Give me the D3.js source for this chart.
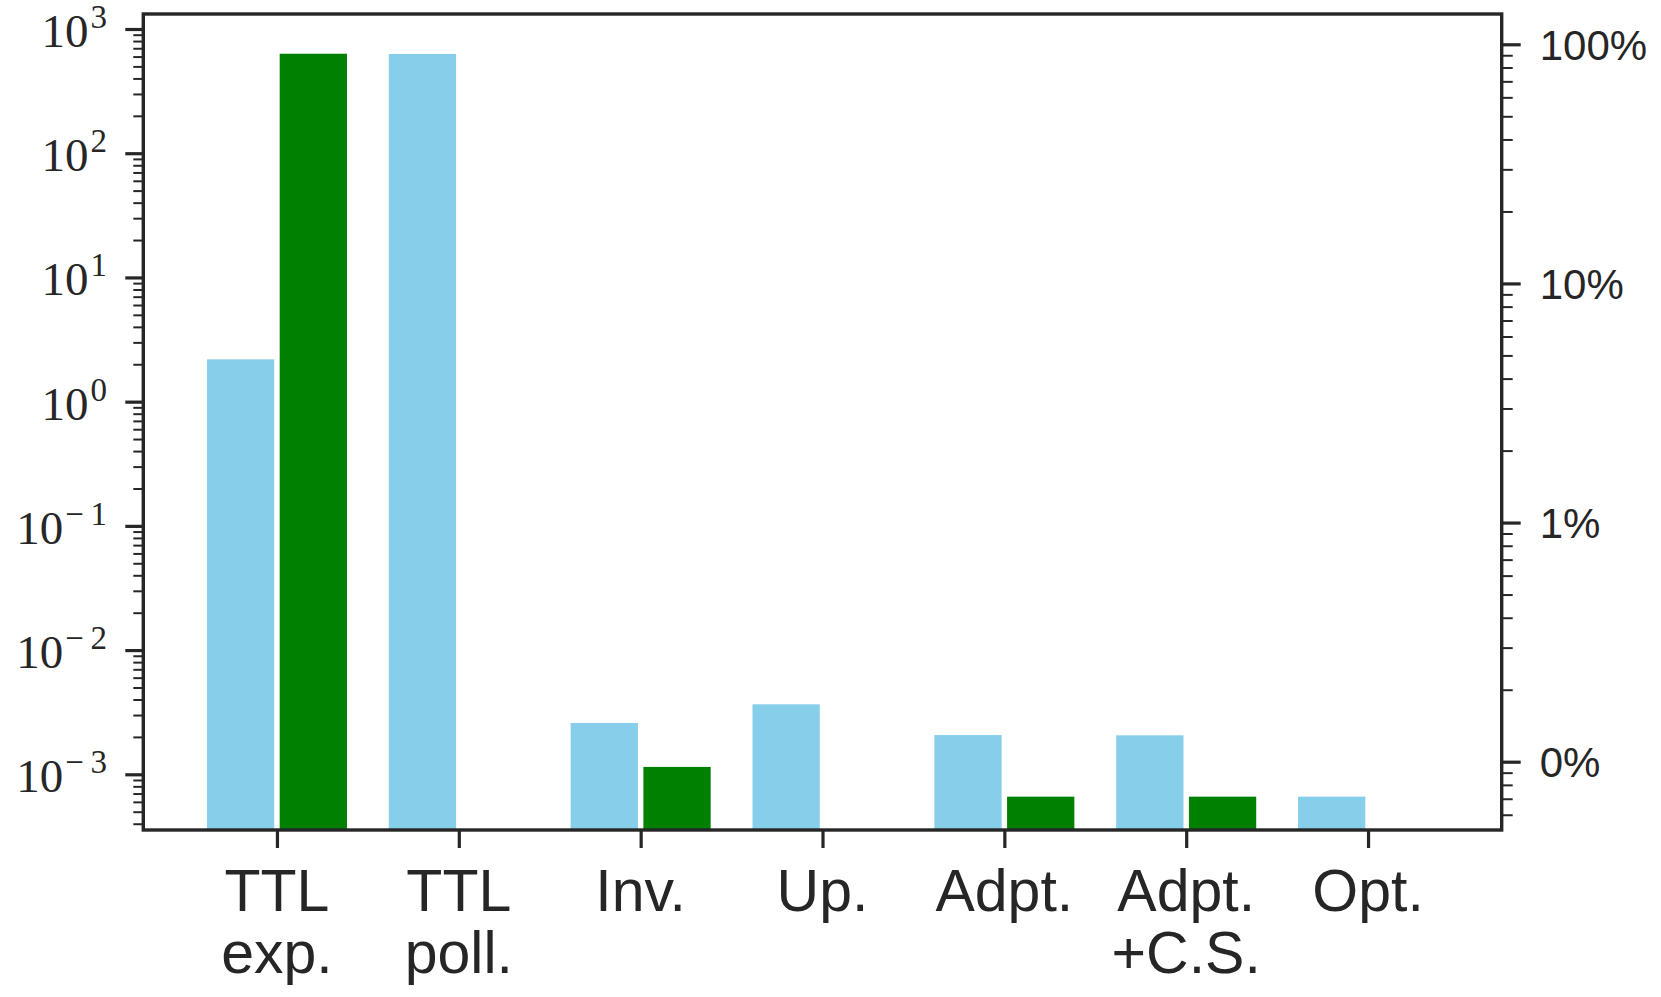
<!DOCTYPE html>
<html>
<head>
<meta charset="utf-8">
<script src="https://cdn.jsdelivr.net/npm/d3@7"></script>
<style>
  body { margin: 0; background: #fff; }
  svg { display: block; }
</style>
</head>
<body>
<div id="chart"></div>
<script>
// data
var categories = ['TTL\nexp.', 'TTL\npoll.', 'Inv.', 'Up.', 'Adpt.', 'Adpt.\n+C.S.', 'Opt.'];
var blueValues = [2.19, 630, 0.00259, 0.00366, 0.00207, 0.00206, 0.000661];   // left axis
var greenValues = [91.3, null, 0.0951, null, 0.0714, 0.0714, null];          // right axis, percent
var leftTicks = [1e-3, 1e-2, 1e-1, 1, 10, 100, 1000];
var leftExps = [-3, -2, -1, 0, 1, 2, 3];
var rightTicks = [100, 10, 1, 0.1];

var width = 1661, height = 997;
var ink = '#262626';
var plot = {left: 143.3, right: 1501.7, top: 14, bottom: 830};

var svg = d3.select('#chart').append('svg')
    .attr('width', width)
    .attr('height', height);
svg.append('rect').attr('width', width).attr('height', height).attr('fill', '#fff');

var x = d3.scaleLinear().domain([-0.735, 6.735]).range([plot.left, plot.right]);
var yLeft = d3.scaleLog().domain([Math.pow(10, -3.4484), Math.pow(10, 3.1208)]).range([plot.bottom, plot.top]);
var yRight = d3.scaleLog().domain([Math.pow(10, -1.2856), Math.pow(10, 2.1267)]).range([plot.bottom, plot.top]);

var step = x(1) - x(0);
var barW = 0.37 * step;

svg.append('clipPath').attr('id', 'clip')
    .append('rect')
    .attr('x', plot.left).attr('y', plot.top)
    .attr('width', plot.right - plot.left).attr('height', plot.bottom - plot.top);

var bars = svg.append('g').attr('clip-path', 'url(#clip)');

bars.selectAll('rect.blue')
    .data(blueValues)
    .join('rect')
    .attr('class', 'blue')
    .attr('x', function(d, i) { return x(i - 0.2) - barW / 2; })
    .attr('width', barW)
    .attr('y', function(d) { return yLeft(d); })
    .attr('height', function(d) { return plot.bottom - yLeft(d); })
    .attr('fill', '#87ceeb');

bars.selectAll('rect.green')
    .data(greenValues.map(function(v, i) { return {v: v, i: i}; }).filter(function(d) { return d.v != null; }))
    .join('rect')
    .attr('class', 'green')
    .attr('x', function(d) { return x(d.i + 0.2) - barW / 2; })
    .attr('width', barW)
    .attr('y', function(d) { return yRight(d.v); })
    .attr('height', function(d) { return plot.bottom - yRight(d.v); })
    .attr('fill', '#008000');

function minorTicks(scale) {
    var dom = scale.domain(), out = [];
    for (var k = -5; k <= 4; k++) {
        for (var m = 2; m <= 9; m++) {
            var v = m * Math.pow(10, k);
            if (v >= dom[0] && v <= dom[1]) out.push(v);
        }
    }
    return out;
}

function styleAxis(g) {
    g.select('.domain').remove();
    g.selectAll('line').attr('stroke', ink);
    g.selectAll('text').attr('fill', ink);
}

// left axis
var leftMinor = svg.append('g')
    .attr('transform', 'translate(' + plot.left + ',0)')
    .call(d3.axisLeft(yLeft).tickValues(minorTicks(yLeft)).tickSize(10).tickFormat(''))
    .call(styleAxis);
leftMinor.selectAll('line').attr('stroke-width', 2);

var leftAxis = svg.append('g')
    .attr('transform', 'translate(' + plot.left + ',0)')
    .call(d3.axisLeft(yLeft).tickValues(leftTicks).tickSize(18).tickFormat(''))
    .call(styleAxis);
leftAxis.selectAll('line').attr('stroke-width', 3.2);

var leftLabels = svg.append('g').selectAll('text')
    .data(leftTicks)
    .join('text')
    .attr('x', 107)
    .attr('y', function(d) { return yLeft(d) + 18; })
    .attr('text-anchor', 'end')
    .attr('font-family', '"Liberation Serif", "DejaVu Serif", serif')
    .attr('font-size', 47)
    .attr('fill', ink);
leftLabels.append('tspan').text('10');
leftLabels.append('tspan')
    .attr('dy', -19)
    .attr('dx', 2)
    .attr('font-size', 33)
    .text(function(d, i) { return leftExps[i] < 0 ? '\u2212\u2009' + (-leftExps[i]) : String(leftExps[i]); });

// right axis
var rightMinor = svg.append('g')
    .attr('transform', 'translate(' + plot.right + ',0)')
    .call(d3.axisRight(yRight).tickValues(minorTicks(yRight).filter(function(v) {
        return rightTicks.indexOf(v) < 0;
    })).tickSize(11).tickFormat(''))
    .call(styleAxis);
rightMinor.selectAll('line').attr('stroke-width', 2);

var rightAxis = svg.append('g')
    .attr('transform', 'translate(' + plot.right + ',0)')
    .call(d3.axisRight(yRight).tickValues(rightTicks).tickSize(19).tickPadding(19)
        .tickFormat(function(d) { return d3.format('.0f')(d) + '%'; }))
    .call(styleAxis);
rightAxis.selectAll('line').attr('stroke-width', 3.2);
rightAxis.selectAll('text')
    .attr('font-family', '"Liberation Sans", Arial, sans-serif')
    .attr('font-size', 42)
    .attr('dy', '0.36em');

// bottom axis
var bottomAxis = svg.append('g')
    .attr('transform', 'translate(0,' + plot.bottom + ')')
    .call(d3.axisBottom(x).tickValues(d3.range(categories.length)).tickSize(18).tickFormat(''))
    .call(styleAxis);
bottomAxis.selectAll('line').attr('stroke-width', 3.2);

var catLabels = svg.append('g').selectAll('text')
    .data(categories)
    .join('text')
    .attr('x', function(d, i) { return x(i); })
    .attr('y', 910.7)
    .attr('text-anchor', 'middle')
    .attr('font-family', '"Liberation Sans", Arial, sans-serif')
    .attr('font-size', 59)
    .attr('fill', ink);
catLabels.each(function(d, i) {
    var t = d3.select(this);
    d.split('\n').forEach(function(line, j) {
        t.append('tspan')
            .attr('x', x(i))
            .attr('dy', j === 0 ? 0 : 62.5)
            .text(line);
    });
});

// frame
svg.append('rect')
    .attr('x', plot.left).attr('y', plot.top)
    .attr('width', plot.right - plot.left).attr('height', plot.bottom - plot.top)
    .attr('fill', 'none')
    .attr('stroke', ink)
    .attr('stroke-width', 3.4);
</script>
</body>
</html>
